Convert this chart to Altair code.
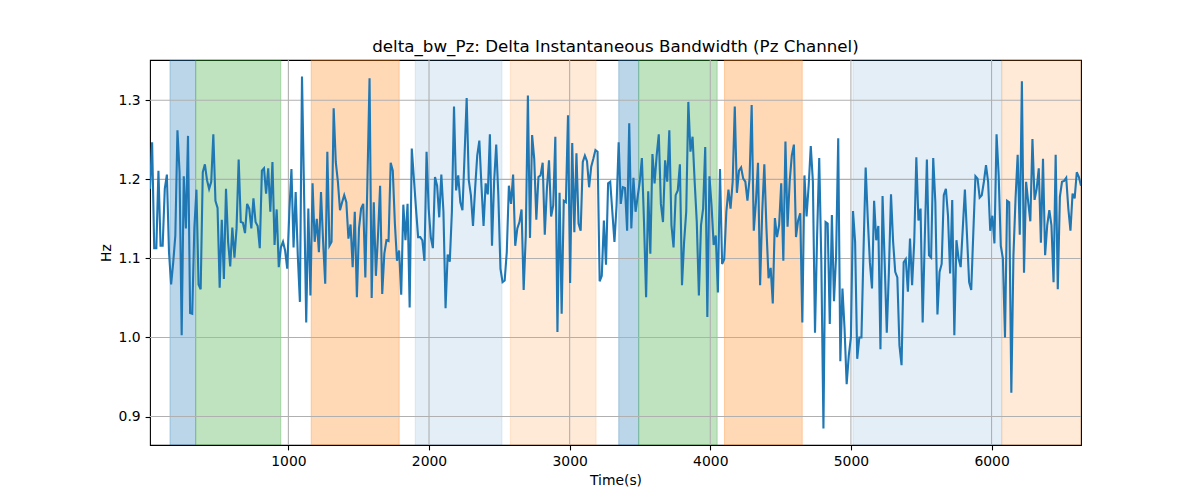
import altair as alt
import numpy as np
import pandas as pd

# ---- data ----
T_START = 16
T_END = 6636

seg_a = [1.188, 1.247, 1.113, 1.113, 1.211, 1.116, 1.116, 1.188, 1.206, 1.108,
         1.067, 1.095, 1.129, 1.262, 1.209, 1.003, 1.204, 1.138, 1.255, 1.031,
         1.030, 1.138, 1.187, 1.067, 1.061, 1.209, 1.219, 1.199, 1.188, 1.197,
         1.257, 1.173, 1.164, 1.063, 1.149, 1.074, 1.188, 1.121, 1.090, 1.139,
         1.101, 1.138, 1.225, 1.146, 1.145, 1.132, 1.169, 1.163, 1.138]
seg_b = [1.176, 1.146, 1.141, 1.113, 1.211, 1.214, 1.182, 1.214, 1.159, 1.222,
         1.117, 1.162, 1.089, 1.114, 1.121, 1.110, 1.087, 1.159, 1.213, 1.114,
         1.184, 1.104, 1.045, 1.330, 1.180, 1.019, 1.163, 1.053, 1.195, 1.121,
         1.150, 1.108, 1.184, 1.121, 1.068, 1.235, 1.116, 1.121, 1.290, 1.222,
         1.197, 1.161, 1.171, 1.180, 1.171, 1.125, 1.143, 1.089, 1.159]
seg_c = [1.051, 1.138, 1.163, 1.169, 1.076, 1.199, 1.328, 1.050, 1.171, 1.078,
         1.129, 1.192, 1.055, 1.106, 1.123, 1.122, 1.221, 1.211, 1.144, 1.097,
         1.110, 1.054, 1.168, 1.123, 1.169, 1.038, 1.239, 1.201, 1.163, 1.127,
         1.127, 1.123, 1.097, 1.235, 1.163, 1.127, 1.113, 1.203, 1.192, 1.152,
         1.206, 1.159, 1.037, 1.105, 1.096, 1.159, 1.292, 1.186, 1.205]
seg_d = [1.171, 1.161, 1.230, 1.303, 1.199, 1.180, 1.141, 1.188, 1.230, 1.249,
         1.192, 1.141, 1.195, 1.181, 1.257, 1.116, 1.197, 1.244, 1.180, 1.087,
         1.070, 1.072, 1.108, 1.192, 1.169, 1.206, 1.116, 1.138, 1.146, 1.162,
         1.060, 1.129, 1.306, 1.126, 1.256, 1.226, 1.149, 1.203, 1.205, 1.221,
         1.130, 1.188, 1.224, 1.153, 1.167, 1.254, 1.007, 1.183, 1.030, 1.173]
seg_e = [1.171, 1.281, 1.069, 1.246, 1.133, 1.233, 1.144, 1.135, 1.222, 1.230,
         1.223, 1.190, 1.216, 1.226, 1.237, 1.235, 1.071, 1.078, 1.148, 1.092,
         1.195, 1.197, 1.159, 1.121, 1.167, 1.247, 1.169, 1.190, 1.189, 1.135,
         1.271, 1.138, 1.202, 1.159, 1.178, 1.197, 1.227, 1.146, 1.051, 1.185,
         1.106, 1.232, 1.195, 1.230, 1.257, 1.169, 1.146, 1.224, 1.197, 1.262]
seg_f = [1.142, 1.114, 1.180, 1.186, 1.219, 1.066, 1.121, 1.159, 1.298, 1.235,
         1.254, 1.197, 1.146, 1.053, 1.142, 1.163, 1.241, 1.026, 1.204, 1.167,
         1.117, 1.129, 1.057, 1.213, 1.093, 1.099, 1.159, 1.187, 1.163, 1.197,
         1.292, 1.183, 1.211, 1.215, 1.201, 1.197, 1.173, 1.201, 1.294, 1.135,
         1.171, 1.221, 1.066, 1.159, 1.219, 1.138, 1.075, 1.088, 1.043]
seg_g = [1.151, 1.127, 1.142, 1.195, 1.097, 1.248, 1.140, 1.197, 1.230, 1.244,
         1.127, 1.148, 1.157, 1.019, 1.205, 1.153, 1.192, 1.242, 1.197, 1.006,
         1.129, 1.227, 1.095, 0.885, 1.146, 1.144, 1.017, 1.155, 1.046, 1.104,
         1.252, 0.970, 1.062, 1.011, 0.941, 0.977, 1.000, 1.160, 1.121, 0.973,
         1.000, 1.000, 1.112, 1.215, 1.150, 1.095, 1.062, 1.173, 1.123]
seg_h = [1.141, 0.985, 1.179, 1.095, 1.006, 1.083, 1.181, 1.121, 1.083, 1.076,
         0.990, 0.965, 1.095, 1.099, 1.058, 1.125, 1.066, 1.121, 1.228, 1.148,
         1.163, 1.019, 1.125, 1.225, 1.104, 1.101, 1.227, 1.171, 1.029, 1.083,
         1.093, 1.180, 1.188, 1.154, 1.081, 1.174, 1.003, 1.123, 1.100, 1.089,
         1.138, 1.187, 1.129, 1.070, 1.060, 1.133, 1.204, 1.201, 1.177, 1.180]
seg_i = [1.197, 1.218, 1.197, 1.135, 1.154, 1.119, 1.257, 1.205, 1.116, 1.100,
         1.000, 1.173, 1.171, 0.930, 1.104, 1.176, 1.231, 1.130, 1.324, 1.082,
         1.197, 1.171, 1.147, 1.251, 1.174, 1.188, 1.214, 1.120, 1.226, 1.104,
         1.142, 1.161, 1.142, 1.070, 1.231, 1.061, 1.178, 1.197, 1.198, 1.202,
         1.163, 1.135, 1.182, 1.176, 1.209, 1.203, 1.192]

bw_values = seg_a + seg_b + seg_c + seg_d + seg_e + seg_f + seg_g + seg_h + seg_i
times = np.linspace(T_START, T_END, len(bw_values))

band_start = [158, 341, 1162, 1902, 2578, 3349, 3491, 4101, 5014, 6073]
band_end = [341, 946, 1788, 2519, 3188, 3491, 4049, 4654, 6073, 6636]
band_color = ["#1f77b4", "#2ca02c", "#ff7f0e", "#1f77b4", "#ff7f0e",
              "#1f77b4", "#2ca02c", "#ff7f0e", "#1f77b4", "#ff7f0e"]
band_alpha = [0.3, 0.3, 0.3, 0.12, 0.16, 0.3, 0.3, 0.3, 0.12, 0.16]

x_ticks = [1000, 2000, 3000, 4000, 5000, 6000]
y_ticks = [0.9, 1.0, 1.1, 1.2, 1.3]

X_DOMAIN = [16, 6636]
Y_DOMAIN = [0.864, 1.351]

FONT = "DejaVu Sans"

line_df = pd.DataFrame({"t": times, "v": bw_values})
band_df = pd.DataFrame({"t": band_start, "end": band_end,
                        "color": band_color, "alpha": band_alpha})
xg_df = pd.DataFrame({"t": x_ticks})
yg_df = pd.DataFrame({"v": y_ticks})

xscale = alt.Scale(domain=X_DOMAIN, nice=False, zero=False)
yscale = alt.Scale(domain=Y_DOMAIN, nice=False, zero=False)

x_axis = alt.Axis(values=x_ticks, format="d", title="Time(s)", grid=False,
                  domain=False, tickSize=4.9, tickWidth=1.1, tickColor="black",
                  labelPadding=4.9, labelFont=FONT, labelFontSize=13.9,
                  labelColor="black", titleFont=FONT, titleFontSize=13.9,
                  titleFontWeight="normal", titleColor="black",
                  titleY=35, titleBaseline="middle")
y_axis = alt.Axis(values=y_ticks, format=".1f", title="Hz", grid=False,
                  domain=False, tickSize=4.9, tickWidth=1.1, tickColor="black",
                  labelPadding=4.9, labelFont=FONT, labelFontSize=13.9,
                  labelColor="black", titleFont=FONT, titleFontSize=13.9,
                  titleFontWeight="normal", titleColor="black",
                  titleX=-44, titleBaseline="middle")

bands = alt.Chart(band_df).mark_rect(clip=True, strokeWidth=1).encode(
    x=alt.X("t:Q", scale=xscale, axis=x_axis, title="Time(s)"),
    x2="end:Q",
    fill=alt.Fill("color:N", scale=None),
    stroke=alt.Stroke("color:N", scale=None),
    fillOpacity=alt.FillOpacity("alpha:Q", scale=None),
    strokeOpacity=alt.StrokeOpacity("alpha:Q", scale=None),
)

xgrid = alt.Chart(xg_df).mark_rule(color="#b0b0b0", strokeWidth=1.1).encode(
    x=alt.X("t:Q", scale=xscale, axis=x_axis, title="Time(s)")
)
ygrid = alt.Chart(yg_df).mark_rule(color="#b0b0b0", strokeWidth=1.1).encode(
    y=alt.Y("v:Q", scale=yscale, axis=y_axis, title="Hz")
)

line = alt.Chart(line_df).mark_line(color="#1f77b4", strokeWidth=2.1, clip=True).encode(
    x=alt.X("t:Q", scale=xscale, axis=x_axis, title="Time(s)"),
    y=alt.Y("v:Q", scale=yscale, axis=y_axis, title="Hz"),
)

chart = alt.layer(bands, xgrid, ygrid, line).properties(
    width=931,
    height=385,
    title=alt.TitleParams(
        text="delta_bw_Pz: Delta Instantaneous Bandwidth (Pz Channel)",
        font=FONT, fontSize=16.7, fontWeight="normal", color="black",
        anchor="middle", offset=8.3, baseline="alphabetic", dy=18),
    autosize=alt.AutoSizeParams(type="none"),
    padding={"left": 142, "top": 52, "right": 105, "bottom": 46},
).configure_view(stroke="black", strokeWidth=1.1)

chart.save("out.html", embed_options={"renderer": "svg", "actions": False})
